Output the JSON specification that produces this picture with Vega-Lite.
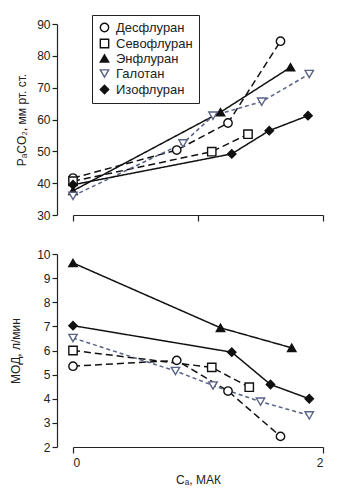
{
  "$schema": "https://vega.github.io/schema/vega-lite/v6.json",
  "background": "white",
  "padding": {"top": 14, "left": 9, "right": 5, "bottom": 5},
  "config": {
    "view": {"stroke": null},
    "font": "Liberation Sans",
    "axis": {"grid": false, "domainColor": "#222", "tickColor": "#222", "labelColor": "#222", "titleColor": "#222", "labelFontSize": 12, "titleFontSize": 12, "titleFontWeight": "normal", "labelFont": "Liberation Sans", "titleFont": "Liberation Sans", "tickSize": 5, "domainWidth": 1.2, "tickWidth": 1.2},
    "legend": {"labelFont": "Liberation Sans", "labelFontSize": 13, "labelColor": "#222"}
  },
  "datasets": {
    "paco2": [
      {"agent": "Десфлуран", "mac": 0, "value": 41.6},
      {"agent": "Десфлуран", "mac": 0.83, "value": 50.4},
      {"agent": "Десфлуран", "mac": 1.24, "value": 58.9},
      {"agent": "Десфлуран", "mac": 1.66, "value": 84.6},
      {"agent": "Севофлуран", "mac": 0, "value": 40.6},
      {"agent": "Севофлуран", "mac": 1.11, "value": 49.9},
      {"agent": "Севофлуран", "mac": 1.40, "value": 55.4},
      {"agent": "Энфлуран", "mac": 0, "value": 37.6},
      {"agent": "Энфлуран", "mac": 1.18, "value": 62.3},
      {"agent": "Энфлуран", "mac": 1.74, "value": 76.4},
      {"agent": "Галотан", "mac": 0, "value": 36.0},
      {"agent": "Галотан", "mac": 0.88, "value": 52.5},
      {"agent": "Галотан", "mac": 1.12, "value": 61.2},
      {"agent": "Галотан", "mac": 1.51, "value": 65.6},
      {"agent": "Галотан", "mac": 1.89, "value": 74.3},
      {"agent": "Изофлуран", "mac": 0, "value": 39.5},
      {"agent": "Изофлуран", "mac": 1.27, "value": 49.2},
      {"agent": "Изофлуран", "mac": 1.57, "value": 56.5},
      {"agent": "Изофлуран", "mac": 1.88, "value": 61.2}
    ],
    "mod": [
      {"agent": "Десфлуран", "mac": 0, "value": 5.35},
      {"agent": "Десфлуран", "mac": 0.83, "value": 5.59},
      {"agent": "Десфлуран", "mac": 1.24, "value": 4.32},
      {"agent": "Десфлуран", "mac": 1.66, "value": 2.44},
      {"agent": "Севофлуран", "mac": 0, "value": 6.0},
      {"agent": "Севофлуран", "mac": 1.11, "value": 5.3},
      {"agent": "Севофлуран", "mac": 1.41, "value": 4.48},
      {"agent": "Энфлуран", "mac": 0, "value": 9.63},
      {"agent": "Энфлуран", "mac": 1.18, "value": 6.94},
      {"agent": "Энфлуран", "mac": 1.75, "value": 6.11},
      {"agent": "Галотан", "mac": 0, "value": 6.52},
      {"agent": "Галотан", "mac": 0.82, "value": 5.15},
      {"agent": "Галотан", "mac": 1.12, "value": 4.55},
      {"agent": "Галотан", "mac": 1.5, "value": 3.88},
      {"agent": "Галотан", "mac": 1.89, "value": 3.31},
      {"agent": "Изофлуран", "mac": 0, "value": 7.03},
      {"agent": "Изофлуран", "mac": 1.27, "value": 5.93},
      {"agent": "Изофлуран", "mac": 1.58, "value": 4.59},
      {"agent": "Изофлуран", "mac": 1.89, "value": 4.0}
    ]
  },
  "vconcat": [
    {
      "width": 250,
      "height": 191,
      "data": {"name": "paco2"},
      "encoding": {
        "x": {"field": "mac", "type": "quantitative", "scale": {"domain": [0, 2], "nice": false}, "axis": {"values": [0, 1, 2], "labels": false, "title": null, "tickSize": 6}},
        "y": {"field": "value", "type": "quantitative", "scale": {"domain": [30, 90], "nice": false}, "axis": {"values": [30, 40, 50, 60, 70, 80, 90], "offset": 16, "title": "PₐCO₂, мм рт. ст.", "titlePadding": 8}}
      },
      "layer": [
        {
          "mark": {"type": "line"},
          "encoding": {
            "detail": {"field": "agent"},
            "stroke": {"field": "agent", "type": "nominal", "scale": {"domain": ["Десфлуран", "Севофлуран", "Энфлуран", "Галотан", "Изофлуран"], "range": ["#111", "#111", "#111", "#5a6285", "#111"]}},
            "strokeDash": {"field": "agent", "type": "nominal", "scale": {"domain": ["Десфлуран", "Севофлуран", "Энфлуран", "Галотан", "Изофлуран"], "range": [[7, 4], [7, 4], [1, 0], [4, 3], [1, 0]]}, "legend": null},
            "strokeWidth": {"field": "agent", "type": "nominal", "scale": {"domain": ["Десфлуран", "Севофлуран", "Энфлуран", "Галотан", "Изофлуран"], "range": [1.5, 1.5, 1.3, 1, 1.3]}, "legend": null}
          }
        },
        {
          "mark": {"type": "point", "size": 70, "strokeWidth": 1.4, "opacity": 1},
          "encoding": {
            "shape": {"field": "agent", "type": "nominal", "scale": {"domain": ["Десфлуран", "Севофлуран", "Энфлуран", "Галотан", "Изофлуран"], "range": ["circle", "square", "triangle-up", "triangle-down", "diamond"]},
              "legend": {"title": null, "orient": "none", "legendX": 19, "legendY": -9, "strokeColor": "#222", "fillColor": "white", "padding": 6, "rowPadding": 1, "symbolSize": 70, "symbolStrokeWidth": 1.4, "labelOffset": 5}},
            "fill": {"field": "agent", "type": "nominal", "scale": {"domain": ["Десфлуран", "Севофлуран", "Энфлуран", "Галотан", "Изофлуран"], "range": ["white", "white", "#111", "white", "#111"]}},
            "stroke": {"field": "agent", "type": "nominal"}
          }
        }
      ]
    },
    {
      "width": 250,
      "height": 193,
      "data": {"name": "mod"},
      "encoding": {
        "x": {"field": "mac", "type": "quantitative", "scale": {"domain": [0, 2], "nice": false}, "axis": {"values": [0, 1, 2], "format": "d", "title": "Cₐ, МАК", "tickSize": 6, "labelPadding": 4, "titlePadding": 6}},
        "y": {"field": "value", "type": "quantitative", "scale": {"domain": [2, 10], "nice": false}, "axis": {"values": [2, 3, 4, 5, 6, 7, 8, 9, 10], "offset": 16, "title": "МОД, л/мин", "titlePadding": 14}}
      },
      "layer": [
        {
          "mark": {"type": "line"},
          "encoding": {
            "detail": {"field": "agent"},
            "stroke": {"field": "agent", "type": "nominal", "scale": {"domain": ["Десфлуран", "Севофлуран", "Энфлуран", "Галотан", "Изофлуран"], "range": ["#111", "#111", "#111", "#5a6285", "#111"]}, "legend": null},
            "strokeDash": {"field": "agent", "type": "nominal", "scale": {"domain": ["Десфлуран", "Севофлуран", "Энфлуран", "Галотан", "Изофлуран"], "range": [[7, 4], [7, 4], [1, 0], [4, 3], [1, 0]]}, "legend": null},
            "strokeWidth": {"field": "agent", "type": "nominal", "scale": {"domain": ["Десфлуран", "Севофлуран", "Энфлуран", "Галотан", "Изофлуран"], "range": [1.5, 1.5, 1.3, 1, 1.3]}, "legend": null}
          }
        },
        {
          "mark": {"type": "point", "size": 70, "strokeWidth": 1.4, "opacity": 1},
          "encoding": {
            "shape": {"field": "agent", "type": "nominal", "scale": {"domain": ["Десфлуран", "Севофлуран", "Энфлуран", "Галотан", "Изофлуран"], "range": ["circle", "square", "triangle-up", "triangle-down", "diamond"]}, "legend": null},
            "fill": {"field": "agent", "type": "nominal", "scale": {"domain": ["Десфлуран", "Севофлуран", "Энфлуран", "Галотан", "Изофлуран"], "range": ["white", "white", "#111", "white", "#111"]}, "legend": null},
            "stroke": {"field": "agent", "type": "nominal", "legend": null}
          }
        }
      ]
    }
  ],
  "spacing": 26,
  "resolve": {"legend": {"shape": "independent", "fill": "independent", "stroke": "independent"}}
}
